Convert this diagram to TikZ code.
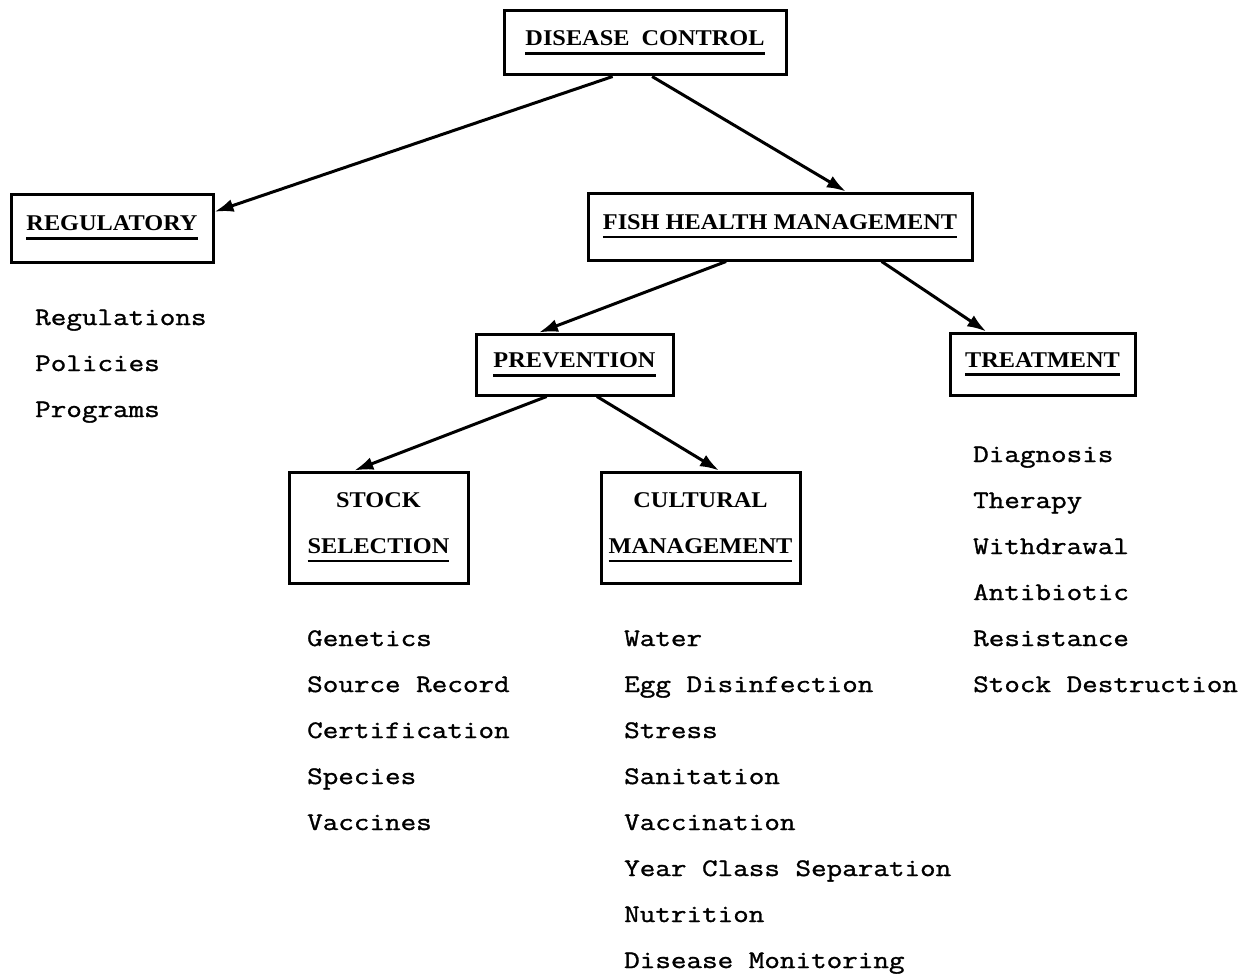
\documentclass[tikz,border=0pt]{standalone}
\usepackage{fontspec}
\usetikzlibrary{arrows.meta}
\newfontfamily\boxfont{Liberation Serif}[FakeStretch=1.08]
\newfontfamily\listfont{Latin Modern Mono}[FakeStretch=1.2,FakeBold=1.2]
\newsavebox{\ulsave}
\newcommand{\ulbox}[1]{\sbox\ulsave{#1}\vtop{\copy\ulsave\kern6pt\hrule height 2.8pt}}
\begin{document}
\begin{tikzpicture}
[x=1pt,y=-1pt,
 box/.style={draw,line width=3pt,inner sep=0pt,align=center,font=\boxfont\bfseries\fontsize{22.5}{46}\selectfont},
 item/.style={anchor=base west,inner sep=0pt,font=\listfont\fontsize{25.2}{30}\selectfont},
 link/.style={line width=3pt,-{Latex[length=19pt,width=13pt]}}]

  \useasboundingbox (0,0) rectangle (1251,974);

  \node (dc) at (645,43) [box,minimum width=282,minimum height=64] {\ulbox{DISEASE\ \ CONTROL}};
  \node (reg) at (112,228) [box,minimum width=202,minimum height=68] {\ulbox{REGULATORY}};
  \node (fhm) at (780,226.5) [box,minimum width=384,minimum height=67] {\ulbox{FISH HEALTH MANAGEMENT}};
  \node (prev) at (574.5,364.5) [box,minimum width=197,minimum height=61] {\ulbox{PREVENTION}};
  \node (treat) at (1042.5,364) [box,minimum width=185,minimum height=62] {\ulbox{TREATMENT}};
  \node (stock) at (378.5,527.5) [box,minimum width=179,minimum height=111] {STOCK\\\ulbox{SELECTION}};
  \node (cult) at (700.5,527.5) [box,minimum width=199,minimum height=111] {CULTURAL\\\ulbox{MANAGEMENT}};

  \foreach \txt [count=\i] in {Regulations,Policies,Programs}
    \node (reg\i) at (35,{279+46*\i}) [item] {\txt};
  \foreach \txt [count=\i] in {Genetics,Source Record,Certification,Species,Vaccines}
    \node (stock\i) at (307,{600+46*\i}) [item] {\txt};
  \foreach \txt [count=\i] in {Water,Egg Disinfection,Stress,Sanitation,Vaccination,Year Class Separation,Nutrition,Disease Monitoring}
    \node (cult\i) at (624,{600+46*\i}) [item] {\txt};
  \foreach \txt [count=\i] in {Diagnosis,Therapy,Withdrawal,Antibiotic,Resistance,Stock Destruction}
    \node (treat\i) at (973,{416+46*\i}) [item] {\txt};

  \foreach \from/\to in {dc.226/reg.9, dc.282/fhm.28, fhm.213/prev.138, fhm.341/treat.150, prev.229/stock.113, prev.305/cult.72}
    \draw[link] (\from) -- (\to);

\end{tikzpicture}
\end{document}
